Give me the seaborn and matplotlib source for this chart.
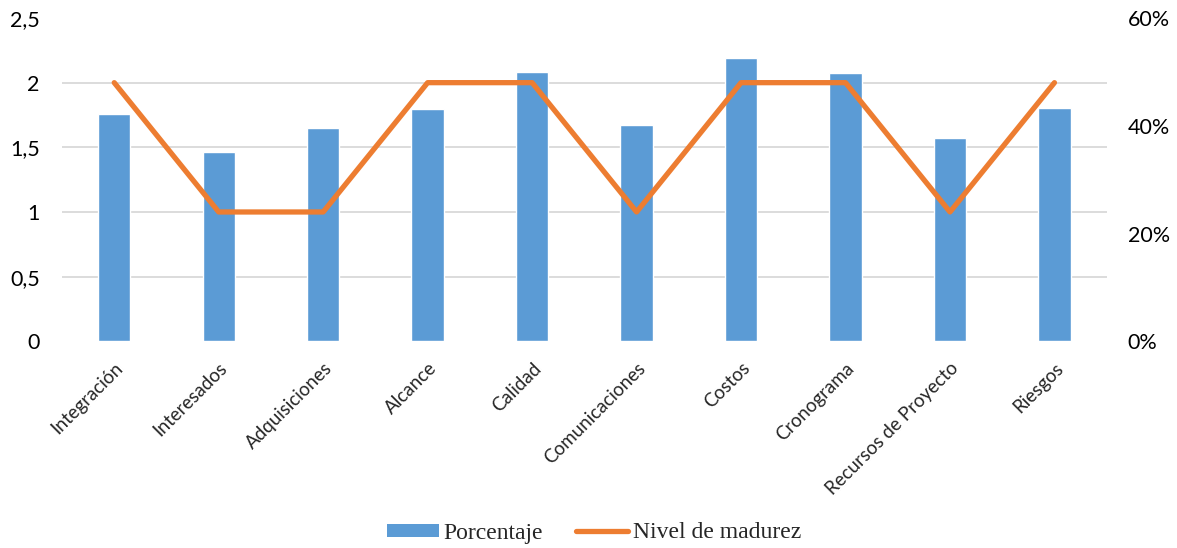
import numpy as np
import matplotlib
matplotlib.use("Agg")
import matplotlib.pyplot as plt
from matplotlib.patches import Patch
from matplotlib.lines import Line2D
from matplotlib.ticker import PercentFormatter, FixedLocator
import seaborn as sns

categorias = ["Integración", "Interesados", "Adquisiciones", "Alcance", "Calidad",
              "Comunicaciones", "Costos", "Cronograma", "Recursos de Proyecto", "Riesgos"]
porcentaje = [0.422, 0.351, 0.395, 0.431, 0.500, 0.401, 0.526, 0.498, 0.377, 0.433]
nivel_madurez = [2, 1, 1, 2, 2, 1, 2, 2, 1, 2]
ticks_izq = [0, 0.5, 1, 1.5, 2, 2.5]
etiquetas_izq = ["0", "0,5", "1", "1,5", "2", "2,5"]
ticks_der = [0, 0.2, 0.4, 0.6]

AZUL = "#5B9BD5"
NARANJA = "#ED7D31"
GRIS = "#D9D9D9"

sns.set_theme(style="white")
plt.rcParams["font.family"] = ["Lato", "DejaVu Sans"]

fig = plt.figure(figsize=(11.77, 5.48), dpi=100)
ax = fig.add_axes([62 / 1177, 1 - 341.3 / 548, (1106.7 - 62) / 1177, (341.3 - 18) / 548])
ax2 = ax.twinx()

# bars on the right (percentage) axis, behind the line
x = np.arange(len(categorias))
sns.barplot(x=x, y=porcentaje, ax=ax2, color=AZUL, width=0.31, saturation=1,
            native_scale=True, zorder=2)
ax2.set_ylim(0, 0.6)
ax2.yaxis.set_major_locator(FixedLocator(ticks_der))
ax2.yaxis.set_major_formatter(PercentFormatter(1.0, decimals=0))
ax2.yaxis.set_minor_locator(FixedLocator(np.arange(0, 0.61, 0.12)))
ax2.grid(False)
ax2.grid(True, which="minor", axis="y", color=GRIS, linewidth=1.3, zorder=0)
ax2.set_axisbelow(True)
ax2.tick_params(axis="y", which="both", length=0, pad=15, labelsize=15.5, colors="black")
ax2.set_ylabel("")

# maturity level line on the left axis, drawn on top
sns.lineplot(x=x, y=nivel_madurez, ax=ax, color=NARANJA, linewidth=3.8,
             solid_capstyle="round", solid_joinstyle="round")
ax.set_ylim(0, 2.5)
ax.set_yticks(ticks_izq)
ax.set_yticklabels(etiquetas_izq)
ax.tick_params(axis="y", length=0, pad=16, labelsize=15.5, colors="black")
ax.set_xlim(-0.5, len(categorias) - 0.5)
ax.set_xticks(x)
ax.set_xticklabels(categorias, rotation=45, ha="right", rotation_mode="anchor",
                   fontsize=13.5)
ax.tick_params(axis="x", length=0, pad=13)
ax.set_xlabel("")
ax.set_ylabel("")
ax.grid(False)

ax.set_zorder(ax2.get_zorder() + 1)
ax.patch.set_visible(False)
ax2.patch.set_visible(True)
ax2.patch.set_facecolor("white")

for a in (ax, ax2):
    for s in a.spines.values():
        s.set_visible(False)

handles = [Patch(facecolor=AZUL, edgecolor="none", label="Porcentaje"),
           Line2D([0], [0], color=NARANJA, linewidth=3.8, solid_capstyle="round",
                  label="Nivel de madurez")]
fig.legend(handles=handles, loc="center", bbox_to_anchor=(594 / 1177, 1 - 533 / 548), ncol=2,
           frameon=False, prop={"family": "Liberation Serif", "size": 17},
           handlelength=2.2, handleheight=0.47, handletextpad=0.2, columnspacing=1.4)

fig.savefig("out.png", dpi=100, facecolor="white")
